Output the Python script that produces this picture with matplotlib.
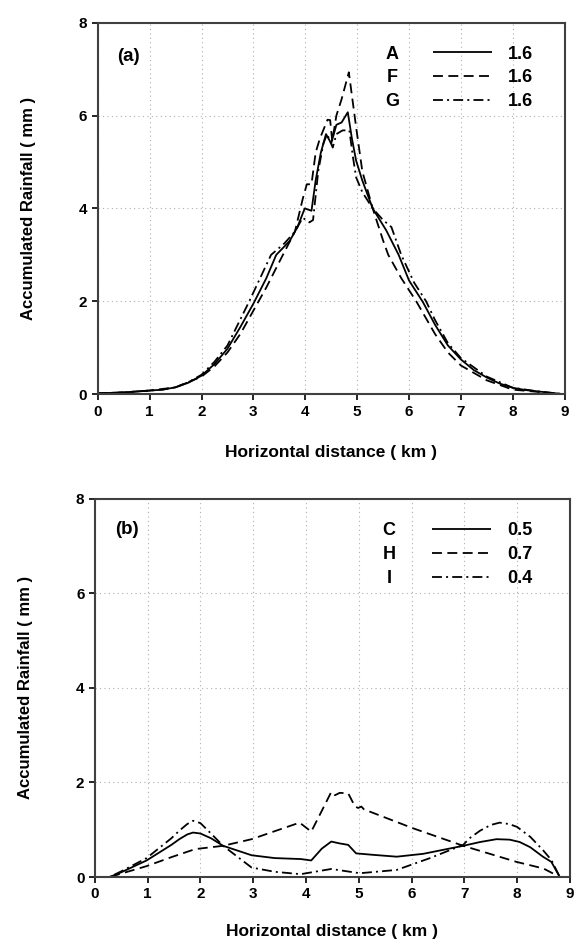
import matplotlib
matplotlib.use("Agg")
import matplotlib.pyplot as plt
from matplotlib.lines import Line2D

plt.rcParams["font.family"] = ["Liberation Sans", "DejaVu Sans"]
plt.rcParams["font.weight"] = "bold"

# Panel (a) data
xa_A = [0, 0.5, 1, 1.25, 1.5, 1.75, 2, 2.25, 2.5, 2.75, 3.0, 3.25, 3.44, 3.7, 3.85, 3.99, 4.12, 4.2,
        4.3, 4.4, 4.5, 4.6, 4.7, 4.82, 4.9, 4.98, 5.1, 5.3, 5.56, 5.8, 6.0, 6.27, 6.5, 6.75, 7,
        7.25, 7.5, 7.75, 8, 8.25, 8.5, 8.75, 9]
ya_A = [0.02, 0.04, 0.08, 0.1, 0.15, 0.25, 0.4, 0.65, 0.98, 1.45, 1.95, 2.5, 3.0, 3.3, 3.6, 4.0, 3.95, 4.6,
        5.2, 5.6, 5.4, 5.8, 5.85, 6.07, 5.5, 5.03, 4.6, 4.0, 3.53, 3.0, 2.45, 1.98, 1.5, 1.05, 0.75,
        0.52, 0.36, 0.23, 0.14, 0.09, 0.06, 0.03, 0.0]

xa_F = [0, 0.5, 1, 1.5, 2, 2.25, 2.5, 2.75, 3.0, 3.25, 3.5, 3.8, 3.95, 4.03, 4.12, 4.2, 4.28, 4.43,
        4.48, 4.52, 4.6, 4.7, 4.84, 4.98, 5.1, 5.3, 5.5, 5.6, 5.85, 6.14, 6.5, 6.75, 7, 7.5, 8,
        8.5, 8.75, 9]
ya_F = [0.02, 0.04, 0.08, 0.15, 0.38, 0.6, 0.9, 1.3, 1.8, 2.3, 2.85, 3.5, 4.2, 4.52, 4.52, 5.2, 5.5, 5.91,
        5.9, 5.45, 6.0, 6.35, 6.93, 5.75, 4.8, 4.0, 3.31, 3.0, 2.5, 2.0, 1.3, 0.9, 0.62, 0.3, 0.1,
        0.05, 0.02, 0.0]

xa_G = [0, 0.5, 1, 1.25, 1.5, 1.75, 2, 2.25, 2.5, 2.92, 3.34, 3.6, 3.8, 3.95, 4.08, 4.15, 4.25, 4.35,
        4.42, 4.53, 4.6, 4.72, 4.85, 4.92, 4.98, 5.1, 5.3, 5.5, 5.66, 5.85, 6.1, 6.33, 6.5, 6.75,
        7, 7.5, 8, 8.5, 8.75, 9]
ya_G = [0.02, 0.04, 0.08, 0.1, 0.15, 0.26, 0.42, 0.7, 1.05, 2.0, 3.0, 3.25, 3.5, 3.8, 3.7, 3.75, 4.8, 5.4,
        5.6, 5.31, 5.6, 5.68, 5.68, 5.1, 4.67, 4.35, 4.0, 3.75, 3.6, 3.0, 2.4, 2.0, 1.6, 1.1,
        0.78, 0.38, 0.14, 0.06, 0.03, 0.0]

# Panel (b) data
xb_C = [0, 0.28, 0.5, 0.98, 1.45, 1.6, 1.75, 1.86, 2.0, 2.2, 2.43, 2.97, 3.41, 3.9, 4.1, 4.3, 4.48,
        4.64, 4.8, 4.95, 5.26, 5.72, 6.22, 6.98, 7.3, 7.61, 7.86, 8.05, 8.25, 8.49, 8.65, 8.81, 9]
yb_C = [0, 0, 0.1, 0.35, 0.68, 0.8, 0.9, 0.94, 0.92, 0.82, 0.66, 0.46, 0.40, 0.38, 0.35, 0.6, 0.75,
        0.71, 0.68, 0.5, 0.47, 0.43, 0.49, 0.66, 0.74, 0.8, 0.79, 0.74, 0.63, 0.43, 0.32, 0, 0]

xb_H = [0, 0.28, 0.98, 1.45, 1.9, 2.43, 2.97, 3.41, 3.88, 4.1, 4.3, 4.48, 4.55, 4.64, 4.8, 4.93,
        4.99, 5.05, 5.1, 6.03, 6.98, 7.99, 8.5, 8.81, 9]
yb_H = [0, 0, 0.23, 0.42, 0.59, 0.66, 0.8, 0.97, 1.15, 0.96, 1.4, 1.8, 1.73, 1.78, 1.77, 1.49,
        1.46, 1.49, 1.43, 1.03, 0.66, 0.32, 0.18, 0, 0]

xb_I = [0, 0.28, 0.5, 0.98, 1.45, 1.6, 1.75, 1.86, 2.0, 2.2, 2.43, 2.97, 3.41, 3.9, 4.48, 5.02,
        5.72, 6.35, 6.98, 7.1, 7.3, 7.5, 7.67, 7.85, 8.0, 8.25, 8.49, 8.65, 8.81, 9]
yb_I = [0, 0, 0.12, 0.4, 0.82, 0.98, 1.12, 1.19, 1.14, 0.92, 0.66, 0.2, 0.11, 0.06, 0.17, 0.08,
        0.15, 0.4, 0.68, 0.82, 0.98, 1.1, 1.15, 1.12, 1.06, 0.85, 0.57, 0.36, 0, 0]

x_ticks = list(range(0, 10))
y_ticks = [0, 2, 4, 6, 8]

STYLES = [(0, ()), (0, (5.5, 3)), (0, (5.5, 2.3, 1.1, 2.3))]


def style_axes(ax, tag, tag_y, values, series, leg_x, xpad):
    for (x, y), ls in zip(series, STYLES):
        ax.plot(x, y, color="black", linewidth=1.3, linestyle=ls)
    ax.set_xlim(0, 9)
    ax.set_ylim(0, 8)
    ax.set_xticks(x_ticks)
    ax.set_yticks(y_ticks)
    ax.grid(True, linestyle=(0, (1, 3)), color="#b0b0b0", linewidth=0.8)
    for s in ax.spines.values():
        s.set_color("#404040")
        s.set_linewidth(1.5)
    ax.tick_params(direction="out", length=4, width=1.2, labelsize=11)
    for lab in ax.get_xticklabels() + ax.get_yticklabels():
        lab.set_fontweight("bold")
    ax.set_xlabel("Horizontal distance ( km )", fontsize=12.5, fontweight="bold", labelpad=xpad)
    ax.set_ylabel("Accumulated Rainfall ( mm )", fontsize=12, fontweight="bold", labelpad=31)
    ax.text(0.042, tag_y, tag, transform=ax.transAxes, fontsize=13.5, fontweight="bold", va="center")

    handles = [Line2D([], [], color="black", linewidth=1.3, linestyle=ls) for ls in STYLES]
    leg = ax.legend(handles, values, loc="upper left", bbox_to_anchor=(leg_x, 0.938),
                    frameon=False, handlelength=3.3, handletextpad=0.9,
                    labelspacing=0.38, borderpad=0, borderaxespad=0,
                    prop={"weight": "bold", "size": 13})
    return leg


fig = plt.figure(figsize=(5.75, 9.41), dpi=100)
ax1 = fig.add_axes([0.170, 0.581, 0.812, 0.395])
ax2 = fig.add_axes([0.165, 0.068, 0.826, 0.402])

leg1 = style_axes(ax1, "(a)", 0.909, ["1.6", "1.6", "1.6"],
                  [(xa_A, ya_A), (xa_F, ya_F), (xa_G, ya_G)], 0.717, 19)
leg2 = style_axes(ax2, "(b)", 0.918, ["0.5", "0.7", "0.4"],
                  [(xb_C, yb_C), (xb_H, yb_H), (xb_I, yb_I)], 0.709, 16)

# series letters placed beside each legend row
fig.canvas.draw()
for ax, leg, letters, lx in [(ax1, leg1, ["A", "F", "G"], 0.63),
                             (ax2, leg2, ["C", "H", "I"], 0.619)]:
    for t, letter in zip(leg.get_texts(), letters):
        bb = t.get_window_extent()
        yc = ax.transAxes.inverted().transform((0, (bb.y0 + bb.y1) / 2))[1]
        ax.text(lx, yc, letter, transform=ax.transAxes, fontsize=13,
                fontweight="bold", ha="center", va="center")

fig.savefig("out.png", dpi=100)
